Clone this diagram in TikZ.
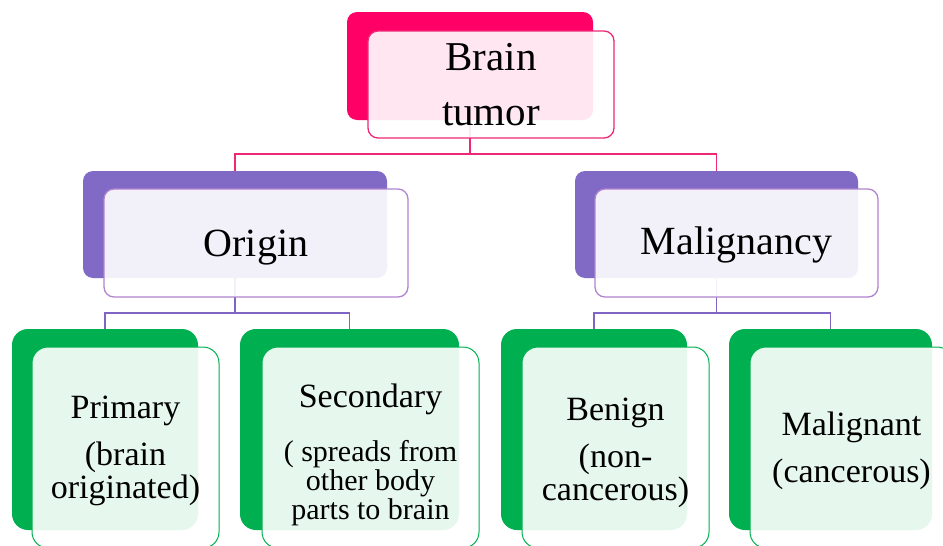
\documentclass[tikz,border=0pt]{standalone}
\usepackage{fontspec}
\setmainfont{Liberation Serif}
\usepackage{tikz}
\usetikzlibrary{
    positioning,                      % right=of, below=of, etc.
    calc                              % aritmetica de coordenadas
}
\definecolor{tumor_pink}{RGB}{255,0,102}
\definecolor{tumor_pink_line}{RGB}{238,40,118}
\definecolor{group_purple}{RGB}{128,106,198}
\definecolor{group_purple_line}{RGB}{176,132,206}
\definecolor{link_purple}{RGB}{128,100,196}
\definecolor{leaf_green}{RGB}{0,176,80}
\tikzset{
    backbox/.style={
        rectangle, rounded corners=10pt,
        inner sep=0pt, outer sep=0pt
    },
    frontbox/.style={
        rectangle, draw, rounded corners=10pt, line width=1.3pt,
        fill=white, fill opacity=0.9, text opacity=1,
        inner sep=0pt, outer sep=0pt, align=center
    },
    leafback/.style={
        backbox, fill=leaf_green, rounded corners=16pt,
        minimum height=201pt
    },
    leaffront/.style={
        frontbox, draw=leaf_green, rounded corners=16pt, line width=1pt,
        minimum height=201pt, font=\fontsize{34}{33}\selectfont
    },
    link/.style={
        line width=1.4pt
    }
}

\begin{document}
\begin{tikzpicture}[x=1pt, y=-1pt]
    \useasboundingbox (0,0) rectangle (943,546);
    \clip (0,0) rectangle (943,546);
    \node[backbox, fill=tumor_pink, minimum width=246pt, minimum height=108pt] (tumorback) at (470,66) {};
    \node[backbox, fill=group_purple, minimum width=304pt, minimum height=107pt] (originback) at (235,224.5) {};
    \node[backbox, fill=group_purple, minimum width=283pt, minimum height=107pt] (malignancyback) at (716.5,224.5) {};
    \node[leafback, minimum width=186pt] (primaryback) at (105,429.5) {};
    \node[leafback, minimum width=219pt] (secondaryback) at (349.5,429.5) {};
    \node[leafback, minimum width=186pt] (benignback) at (594,429.5) {};
    \node[leafback, minimum width=203pt] (malignantback) at (830.5,429.5) {};
    \draw[link, draw=tumor_pink_line] (tumorback.south) -- ++(0,34) -| (originback.north);
    \draw[link, draw=tumor_pink_line] (tumorback.south) -- ++(0,34) -| (malignancyback.north);
    \draw[link, draw=link_purple] (originback.south) -- ++(0,35) -| (primaryback.north);
    \draw[link, draw=link_purple] (originback.south) -- ++(0,35) -| (secondaryback.north);
    \draw[link, draw=link_purple] (malignancyback.south) -- ++(0,35) -| (benignback.north);
    \draw[link, draw=link_purple] (malignancyback.south) -- ++(0,35) -| (malignantback.north);
    \node[frontbox, draw=tumor_pink_line, minimum width=246pt, minimum height=107pt,
        font=\fontsize{41}{55}\selectfont] (tumor) at ([shift={(21,18.5)}]tumorback.center) {Brain\\tumor};
    \node[frontbox, draw=group_purple_line, minimum width=304pt, minimum height=108pt,
        font=\fontsize{40}{48}\selectfont] (origin) at ([shift={(21,18.5)}]originback.center) {\rule{0pt}{35pt}Origin};
    \node[frontbox, draw=group_purple_line, minimum width=283pt, minimum height=108pt,
        font=\fontsize{40}{48}\selectfont] (malignancy) at ([shift={(20,18.5)}]malignancyback.center) {\rule{0pt}{31pt}Malignancy};
    \node[leaffront, minimum width=187pt] (primary) at ([shift={(20.5,18)}]primaryback.center)
        {\rule{0pt}{30pt}Primary\\[14pt](brain\\originated)};
    \node[leaffront, minimum width=217pt, font=\fontsize{30}{29}\selectfont] (secondary) at ([shift={(21,18)}]secondaryback.center)
        {\rule{0pt}{39pt}{\fontsize{34}{33}\selectfont Secondary}\\[25pt]( spreads from\\other body\\parts to brain};
    \node[leaffront, minimum width=187pt] (benign) at ([shift={(21.5,18)}]benignback.center)
        {\rule{0pt}{34pt}Benign\\[14pt](non-\\cancerous)};
    \node[leaffront, minimum width=203pt] (malignant) at ([shift={(21,18)}]malignantback.center)
        {\rule{0pt}{31pt}Malignant\\[14pt](cancerous)};
\end{tikzpicture}
\end{document}
